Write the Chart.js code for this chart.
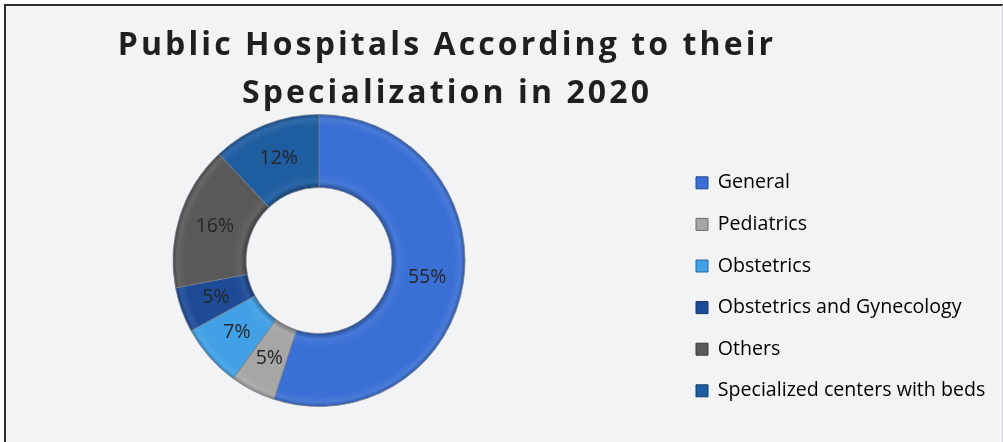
<!DOCTYPE html>
<html>
<head>
<meta charset="utf-8">
<script src="https://cdn.jsdelivr.net/npm/chart.js@4/dist/chart.umd.min.js"></script>
<style>
  body { margin: 0; background: #ffffff; }
  #wrap { position: relative; width: 1003px; height: 442px; overflow: hidden; }
  #frame {
    position: absolute; left: 4px; top: 4px; right: 0; bottom: -10px;
    background: #f2f3f5;
    border-left: 2px solid #2e2e2e;
    border-top: 2px solid #2e2e2e;
    border-right: 1px solid #cfd1d4;
  }
  #chart { position: absolute; left: 0; top: 0; }
</style>
</head>
<body>
<div id="wrap">
  <div id="frame"></div>
  <canvas id="chart" width="1003" height="442"></canvas>
</div>
<script>
const titleLines = ["Public Hospitals According to their", "Specialization in 2020"];
const specialties = [
  "General",
  "Pediatrics",
  "Obstetrics",
  "Obstetrics and Gynecology",
  "Others",
  "Specialized centers with beds",
];
const shares = [55, 5, 7, 5, 16, 12];
const sliceColors = ["#3a6fd5", "#a6a6a6", "#41a0e6", "#1e4b98", "#595959", "#1f5da1"];

const RING_RADIUS = 146;
const TITLE_CENTER_X = 447;
const TITLE_SPACING = "3.1px";
const LEGEND_LEFT = 674;
const LEGEND_TOP = 151;

Chart.defaults.font.family = "'Open Sans', sans-serif";

function shade(hex, amt) {
  const n = parseInt(hex.slice(1), 16);
  const ch = [(n >> 16) & 255, (n >> 8) & 255, n & 255].map((c) =>
    Math.max(0, Math.min(255, Math.round(amt < 0 ? c * (1 + amt) : c + (255 - c) * amt)))
  );
  return `rgb(${ch[0]}, ${ch[1]}, ${ch[2]})`;
}

// radial bevel: darker rim on the inner and outer edge of the ring
function ringFill(context) {
  const chart = context.chart;
  const area = chart.chartArea;
  const base = sliceColors[context.dataIndex];
  if (!area) return base;
  const cx = (area.left + area.right) / 2;
  const cy = (area.top + area.bottom) / 2;
  const g = chart.ctx.createRadialGradient(cx, cy, RING_RADIUS / 2, cx, cy, RING_RADIUS);
  g.addColorStop(0, shade(base, -0.3));
  g.addColorStop(0.08, shade(base, 0.06));
  g.addColorStop(0.2, base);
  g.addColorStop(0.85, base);
  g.addColorStop(0.94, shade(base, 0.08));
  g.addColorStop(1, shade(base, -0.2));
  return g;
}

// percentage text in the middle of each slice
const sliceLabels = {
  id: "sliceLabels",
  afterDatasetsDraw(chart) {
    const ctx = chart.ctx;
    const meta = chart.getDatasetMeta(0);
    ctx.save();
    ctx.font = "19.5px 'Open Sans', sans-serif";
    ctx.fillStyle = "#262626";
    ctx.textAlign = "center";
    ctx.textBaseline = "middle";
    meta.data.forEach((arc, i) => {
      const p = arc.tooltipPosition();
      ctx.fillText(shares[i] + "%", p.x, p.y);
    });
    ctx.restore();
  },
};

// title sits off-centre and letter-spaced, legend sits further right
const placeBoxes = {
  id: "placeBoxes",
  afterLayout(chart) {
    const t = chart.titleBlock;
    const w = t.width;
    t.left = TITLE_CENTER_X - w / 2;
    t.right = TITLE_CENTER_X + w / 2;
    if (!t._spaced) {
      const draw = t.draw;
      t.draw = function (...args) {
        this.ctx.save();
        this.ctx.letterSpacing = TITLE_SPACING;
        draw.apply(this, args);
        this.ctx.restore();
      };
      t._spaced = true;
    }

    const lg = chart.legend;
    lg.left = LEGEND_LEFT;
    lg.right = chart.width;
    lg.width = chart.width - LEGEND_LEFT;
    lg.top = LEGEND_TOP;
    lg.bottom = chart.height;
  },
};

const ctx = document.getElementById("chart").getContext("2d");

const hospitalChart = new Chart(ctx, {
  type: "doughnut",
  data: {
    labels: specialties,
    datasets: [
      {
        data: shares,
        backgroundColor: ringFill,
        borderColor: "rgba(120, 126, 136, 0.8)",
        borderWidth: 1,
        clip: false,
      },
    ],
  },
  options: {
    responsive: false,
    animation: false,
    radius: RING_RADIUS,
    cutout: "50%",
    layout: {
      padding: { left: 20, right: 125, top: 0, bottom: 39 },
    },
    plugins: {
      title: {
        display: true,
        text: titleLines,
        color: "#1f1f1f",
        font: { size: 32, weight: "bold", lineHeight: 48 / 32 },
        padding: { top: 22, bottom: 0 },
      },
      legend: {
        position: "right",
        align: "start",
        maxWidth: 260,
        labels: {
          boxWidth: 12,
          boxHeight: 12,
          padding: 22,
          color: "#1f1f1f",
          font: { size: 19.6 },
          generateLabels: () =>
            specialties.map((name, i) => ({
              text: name,
              fillStyle: sliceColors[i],
              strokeStyle: shade(sliceColors[i], -0.35),
              lineWidth: 1,
              hidden: false,
              index: i,
            })),
        },
      },
      tooltip: { enabled: false },
    },
  },
  plugins: [sliceLabels, placeBoxes],
});
</script>
</body>
</html>
